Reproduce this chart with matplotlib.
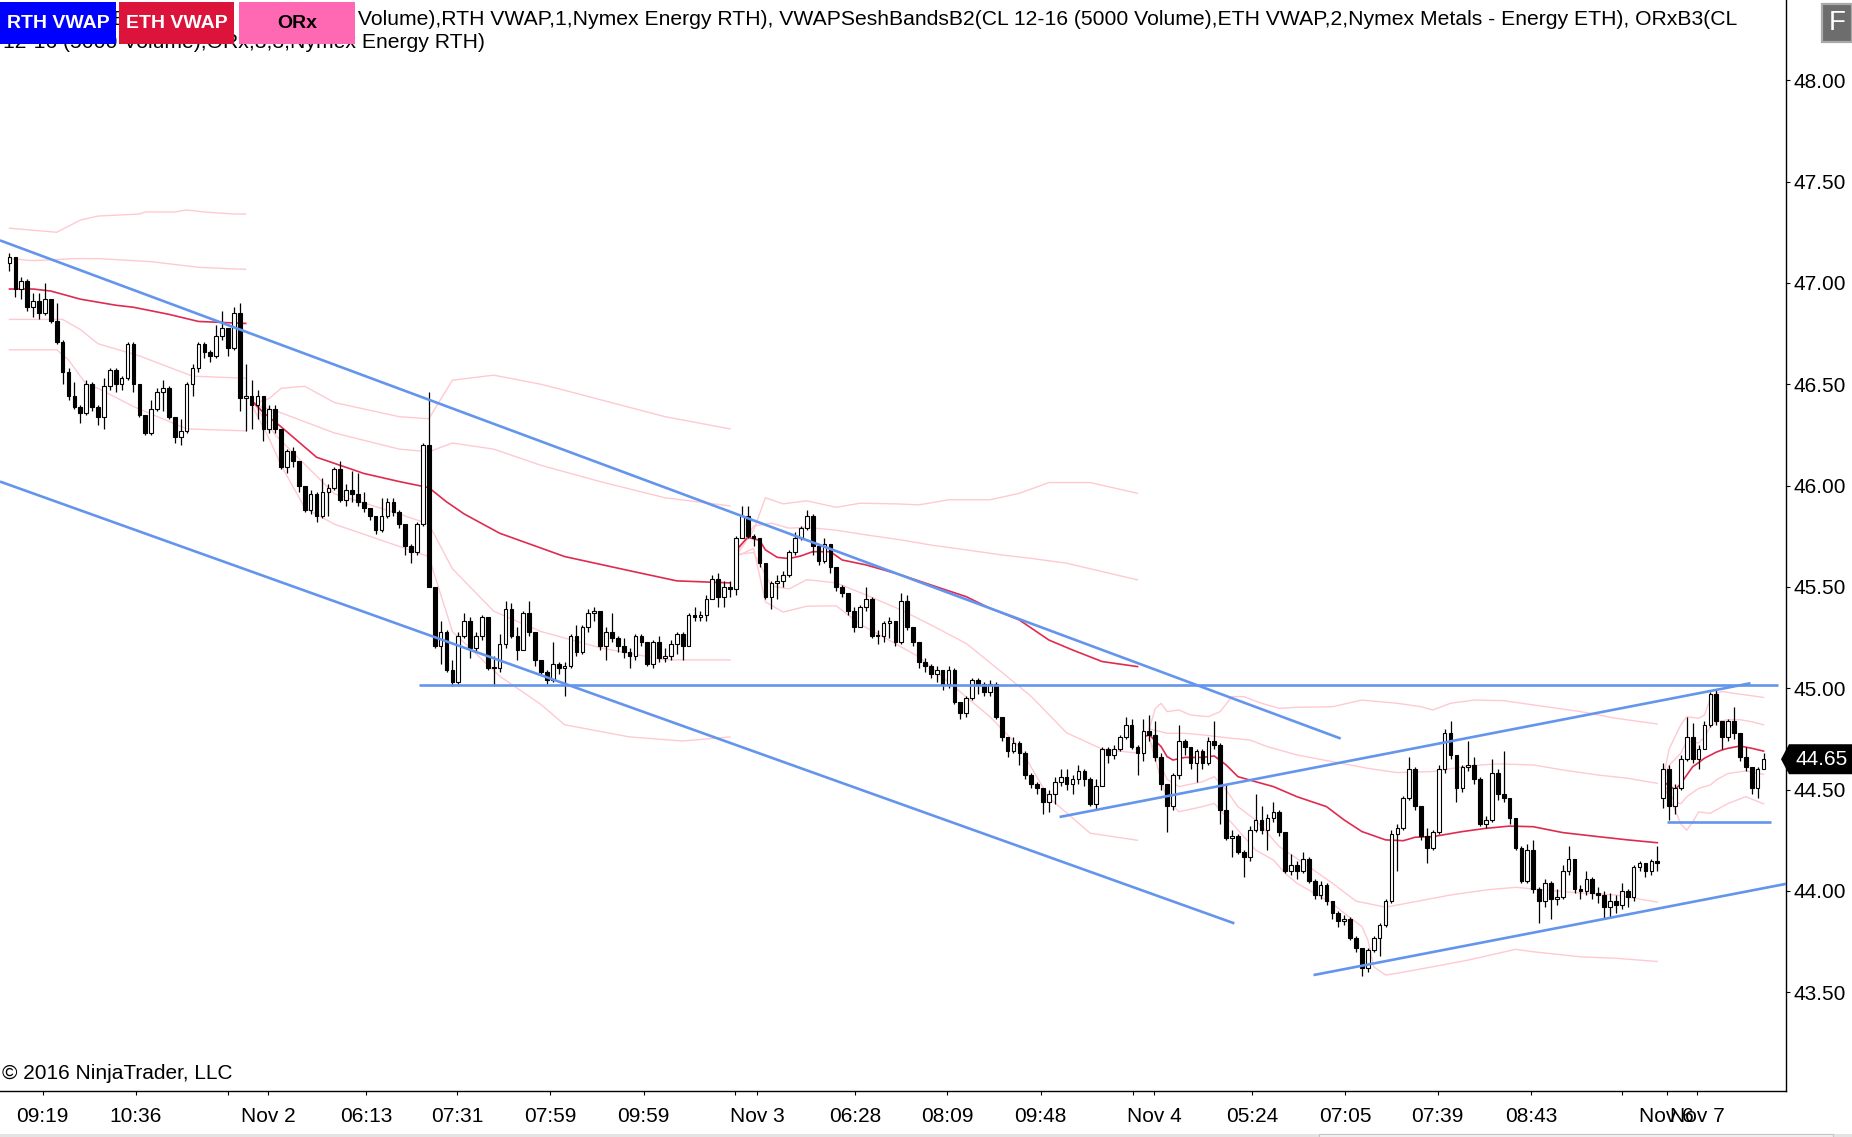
import numpy as np
import matplotlib
matplotlib.use("Agg")
import matplotlib.pyplot as plt
from matplotlib.patches import Rectangle, Polygon

plt.rcParams['font.family'] = ['Liberation Sans', 'DejaVu Sans']

W, H = 1852, 1137

# ---------------- OHLC data (5000-volume bars), by session ----------------
sessA_open = [47.10, 47.13, 46.97, 47.01, 46.88, 46.91, 46.85, 46.92, 46.81, 46.71, 46.56, 46.44, 46.39, 46.36, 46.50, 46.39, 46.34, 46.49, 46.57, 46.50, 46.53, 46.70, 46.50, 46.35, 46.26, 46.38, 46.46, 46.48, 46.34, 46.24, 46.27, 46.50, 46.58, 46.70, 46.66, 46.64, 46.74, 46.78, 46.68, 46.85, 46.43]
sessA_high = [47.15, 47.13, 47.03, 47.02, 46.95, 46.95, 47.00, 46.92, 46.90, 46.72, 46.58, 46.51, 46.40, 46.52, 46.51, 46.40, 46.53, 46.58, 46.58, 46.54, 46.71, 46.71, 46.50, 46.35, 46.42, 46.48, 46.52, 46.49, 46.34, 46.33, 46.51, 46.60, 46.71, 46.71, 46.67, 46.79, 46.86, 46.78, 46.88, 46.90, 46.60]
sessA_low = [47.06, 46.93, 46.92, 46.86, 46.83, 46.82, 46.84, 46.80, 46.70, 46.50, 46.42, 46.38, 46.31, 46.35, 46.37, 46.30, 46.28, 46.47, 46.46, 46.47, 46.52, 46.46, 46.34, 46.25, 46.25, 46.37, 46.37, 46.33, 46.21, 46.20, 46.26, 46.44, 46.56, 46.63, 46.61, 46.63, 46.72, 46.64, 46.67, 46.37, 46.27]
sessA_close = [47.13, 46.97, 47.01, 46.88, 46.91, 46.85, 46.92, 46.81, 46.71, 46.56, 46.44, 46.39, 46.36, 46.50, 46.39, 46.34, 46.49, 46.57, 46.50, 46.53, 46.70, 46.50, 46.35, 46.26, 46.38, 46.46, 46.48, 46.34, 46.24, 46.27, 46.50, 46.58, 46.70, 46.66, 46.64, 46.74, 46.78, 46.68, 46.85, 46.43, 46.44]

sessB_open = [46.44, 46.40, 46.44, 46.28, 46.38, 46.28, 46.09, 46.17, 46.12, 46.00, 45.88, 45.96, 45.85, 45.97, 45.99, 46.08, 45.93, 45.98, 45.96, 45.92, 45.89, 45.85, 45.78, 45.85, 45.92, 45.87, 45.81, 45.70, 45.67, 45.81, 46.20, 45.50, 45.21, 45.28, 45.09, 45.03, 45.26, 45.33, 45.20, 45.26, 45.35, 45.10, 45.10, 45.22, 45.39, 45.26, 45.19, 45.37, 45.28, 45.14, 45.08, 45.04, 45.12, 45.10, 45.11, 45.26, 45.18, 45.30, 45.37, 45.38, 45.21, 45.28, 45.25, 45.21, 45.18, 45.16, 45.26, 45.23, 45.12, 45.23, 45.15, 45.16, 45.22, 45.27, 45.21, 45.36, 45.35, 45.36, 45.44, 45.54, 45.45, 45.50]
sessB_high = [46.52, 46.47, 46.44, 46.40, 46.40, 46.28, 46.18, 46.19, 46.12, 46.00, 45.98, 45.97, 46.04, 46.01, 46.09, 46.12, 46.01, 46.07, 46.06, 45.97, 45.89, 45.85, 45.94, 45.94, 45.94, 45.88, 45.81, 45.71, 45.82, 46.21, 46.46, 45.50, 45.33, 45.29, 45.14, 45.28, 45.37, 45.35, 45.28, 45.36, 45.35, 45.16, 45.27, 45.43, 45.42, 45.30, 45.38, 45.43, 45.28, 45.14, 45.09, 45.23, 45.13, 45.13, 45.27, 45.31, 45.31, 45.39, 45.40, 45.38, 45.30, 45.37, 45.26, 45.25, 45.20, 45.27, 45.27, 45.23, 45.24, 45.26, 45.20, 45.24, 45.28, 45.28, 45.37, 45.40, 45.38, 45.46, 45.56, 45.57, 45.53, 45.53]
sessB_low = [46.28, 46.33, 46.22, 46.26, 46.26, 46.08, 46.06, 46.09, 45.97, 45.87, 45.86, 45.82, 45.84, 45.85, 45.98, 45.92, 45.90, 45.92, 45.90, 45.87, 45.83, 45.76, 45.77, 45.84, 45.85, 45.79, 45.66, 45.62, 45.66, 45.80, 45.50, 45.20, 45.12, 45.08, 45.01, 45.02, 45.25, 45.15, 45.18, 45.24, 45.09, 45.01, 45.08, 45.20, 45.25, 45.14, 45.19, 45.26, 45.11, 45.07, 45.02, 45.03, 45.07, 44.96, 45.10, 45.16, 45.17, 45.28, 45.33, 45.19, 45.14, 45.23, 45.18, 45.15, 45.10, 45.14, 45.21, 45.11, 45.10, 45.13, 45.13, 45.14, 45.17, 45.14, 45.21, 45.33, 45.33, 45.33, 45.44, 45.40, 45.40, 45.45]
sessB_close = [46.40, 46.44, 46.28, 46.38, 46.28, 46.09, 46.17, 46.12, 46.00, 45.88, 45.96, 45.85, 45.97, 45.99, 46.08, 45.93, 45.98, 45.96, 45.92, 45.89, 45.85, 45.78, 45.85, 45.92, 45.87, 45.81, 45.70, 45.67, 45.81, 46.20, 45.50, 45.21, 45.28, 45.09, 45.03, 45.26, 45.33, 45.20, 45.26, 45.35, 45.10, 45.10, 45.22, 45.39, 45.26, 45.19, 45.37, 45.28, 45.14, 45.08, 45.04, 45.12, 45.10, 45.11, 45.26, 45.18, 45.30, 45.37, 45.38, 45.21, 45.28, 45.25, 45.21, 45.18, 45.16, 45.26, 45.23, 45.12, 45.23, 45.15, 45.16, 45.22, 45.27, 45.21, 45.36, 45.35, 45.36, 45.44, 45.54, 45.45, 45.50, 45.49]

sessC_open = [45.49, 45.74, 45.85, 45.75, 45.74, 45.62, 45.45, 45.52, 45.53, 45.56, 45.67, 45.74, 45.79, 45.85, 45.70, 45.63, 45.71, 45.60, 45.50, 45.47, 45.38, 45.30, 45.40, 45.44, 45.26, 45.26, 45.32, 45.33, 45.23, 45.43, 45.30, 45.23, 45.13, 45.11, 45.07, 45.09, 45.02, 45.09, 44.93, 44.88, 44.95, 45.04, 45.02, 44.98, 45.02, 44.86, 44.76, 44.69, 44.73, 44.68, 44.57, 44.53, 44.51, 44.44, 44.48, 44.54, 44.56, 44.53, 44.55, 44.59, 44.55, 44.43, 44.52, 44.70, 44.67, 44.70, 44.76, 44.82, 44.71]
sessC_high = [45.75, 45.90, 45.90, 45.76, 45.74, 45.62, 45.53, 45.56, 45.58, 45.68, 45.77, 45.80, 45.88, 45.86, 45.70, 45.74, 45.71, 45.60, 45.51, 45.47, 45.40, 45.41, 45.50, 45.45, 45.29, 45.33, 45.35, 45.33, 45.47, 45.46, 45.30, 45.23, 45.15, 45.12, 45.11, 45.09, 45.11, 45.10, 44.93, 44.96, 45.05, 45.05, 45.03, 45.04, 45.03, 44.86, 44.76, 44.76, 44.74, 44.69, 44.58, 44.54, 44.51, 44.50, 44.56, 44.60, 44.60, 44.57, 44.62, 44.60, 44.56, 44.55, 44.71, 44.71, 44.72, 44.77, 44.86, 44.85, 44.72]
sessC_low = [45.46, 45.74, 45.74, 45.70, 45.60, 45.44, 45.39, 45.44, 45.50, 45.55, 45.66, 45.73, 45.78, 45.66, 45.61, 45.62, 45.57, 45.48, 45.45, 45.36, 45.28, 45.30, 45.38, 45.25, 45.22, 45.23, 45.25, 45.21, 45.22, 45.29, 45.21, 45.10, 45.08, 45.05, 45.03, 44.99, 45.00, 44.92, 44.85, 44.86, 44.94, 44.97, 44.96, 44.96, 44.85, 44.74, 44.66, 44.68, 44.62, 44.55, 44.51, 44.48, 44.38, 44.39, 44.43, 44.52, 44.50, 44.48, 44.53, 44.52, 44.42, 44.40, 44.52, 44.63, 44.65, 44.69, 44.75, 44.70, 44.57]
sessC_close = [45.74, 45.85, 45.75, 45.74, 45.62, 45.45, 45.52, 45.53, 45.56, 45.67, 45.74, 45.79, 45.85, 45.70, 45.63, 45.71, 45.60, 45.50, 45.47, 45.38, 45.30, 45.40, 45.44, 45.26, 45.26, 45.32, 45.33, 45.23, 45.43, 45.30, 45.23, 45.13, 45.11, 45.07, 45.09, 45.02, 45.09, 44.93, 44.88, 44.95, 45.04, 45.02, 44.98, 45.02, 44.86, 44.76, 44.69, 44.73, 44.68, 44.57, 44.53, 44.51, 44.44, 44.48, 44.54, 44.56, 44.53, 44.55, 44.59, 44.55, 44.43, 44.52, 44.70, 44.67, 44.70, 44.76, 44.82, 44.71, 44.68]

sessD_open = [44.68, 44.79, 44.77, 44.66, 44.53, 44.42, 44.57, 44.74, 44.71, 44.63, 44.69, 44.63, 44.74, 44.72, 44.40, 44.26, 44.27, 44.19, 44.17, 44.30, 44.35, 44.30, 44.36, 44.39, 44.29, 44.10, 44.13, 44.10, 44.16, 44.05, 43.98, 44.03, 43.95, 43.89, 43.85, 43.86, 43.77, 43.72, 43.62, 43.71, 43.77, 43.83, 43.95, 44.28, 44.31, 44.46, 44.60, 44.42, 44.27, 44.21, 44.29, 44.60, 44.78, 44.67, 44.51, 44.61, 44.62, 44.55, 44.33, 44.35, 44.58, 44.48, 44.46, 44.36, 44.21, 44.05, 44.20, 44.01, 43.95, 44.04, 43.96, 43.97, 44.10, 44.16, 44.01, 44.00, 44.06, 43.99, 43.98, 43.92, 43.95, 43.93, 44.00, 43.97, 44.12, 44.14, 44.10, 44.15]
sessD_high = [44.85, 44.87, 44.84, 44.68, 44.53, 44.58, 44.82, 44.75, 44.71, 44.70, 44.70, 44.76, 44.84, 44.73, 44.53, 44.30, 44.28, 44.20, 44.32, 44.48, 44.42, 44.38, 44.44, 44.40, 44.29, 44.18, 44.15, 44.19, 44.17, 44.06, 44.05, 44.04, 43.95, 43.90, 43.88, 43.87, 43.78, 43.72, 43.72, 43.78, 43.84, 43.96, 44.30, 44.33, 44.47, 44.66, 44.61, 44.42, 44.31, 44.30, 44.62, 44.80, 44.84, 44.67, 44.62, 44.74, 44.66, 44.56, 44.37, 44.65, 44.60, 44.69, 44.46, 44.36, 44.22, 44.23, 44.25, 44.02, 44.06, 44.05, 44.01, 44.13, 44.22, 44.16, 44.03, 44.10, 44.07, 44.02, 44.00, 43.99, 43.98, 44.04, 44.01, 44.13, 44.15, 44.14, 44.16, 44.22]
sessD_low = [44.64, 44.74, 44.64, 44.50, 44.29, 44.40, 44.55, 44.67, 44.60, 44.54, 44.60, 44.62, 44.70, 44.33, 44.25, 44.17, 44.18, 44.07, 44.15, 44.29, 44.28, 44.20, 44.34, 44.27, 44.09, 44.08, 44.06, 44.09, 44.04, 43.96, 43.96, 43.93, 43.86, 43.82, 43.83, 43.76, 43.70, 43.58, 43.60, 43.70, 43.68, 43.82, 43.94, 44.10, 44.30, 44.45, 44.40, 44.25, 44.14, 44.20, 44.28, 44.58, 44.65, 44.44, 44.49, 44.59, 44.53, 44.32, 44.31, 44.34, 44.45, 44.44, 44.33, 44.20, 44.04, 44.04, 43.99, 43.84, 43.92, 43.86, 43.93, 43.96, 44.08, 43.99, 43.96, 43.98, 43.96, 43.94, 43.86, 43.87, 43.89, 43.91, 43.92, 43.95, 44.10, 44.07, 44.08, 44.10]
sessD_close = [44.79, 44.77, 44.66, 44.53, 44.42, 44.57, 44.74, 44.71, 44.63, 44.69, 44.63, 44.74, 44.72, 44.40, 44.26, 44.27, 44.19, 44.17, 44.30, 44.35, 44.30, 44.36, 44.39, 44.29, 44.10, 44.13, 44.10, 44.16, 44.05, 43.98, 44.03, 43.95, 43.89, 43.85, 43.86, 43.77, 43.72, 43.62, 43.71, 43.77, 43.83, 43.95, 44.28, 44.31, 44.46, 44.60, 44.42, 44.27, 44.21, 44.29, 44.60, 44.78, 44.67, 44.51, 44.61, 44.62, 44.55, 44.33, 44.35, 44.58, 44.48, 44.46, 44.36, 44.21, 44.05, 44.20, 44.01, 43.95, 44.04, 43.96, 43.97, 44.10, 44.16, 44.01, 44.00, 44.06, 43.99, 43.98, 43.92, 43.95, 43.93, 44.00, 43.97, 44.12, 44.14, 44.10, 44.15, 44.14]

sessE_open = [44.46, 44.60, 44.42, 44.51, 44.65, 44.76, 44.65, 44.70, 44.82, 44.97, 44.84, 44.76, 44.84, 44.78, 44.66, 44.61, 44.51, 44.60]
sessE_high = [44.63, 44.62, 44.53, 44.67, 44.86, 44.83, 44.72, 44.84, 44.98, 44.99, 44.84, 44.85, 44.91, 44.78, 44.71, 44.61, 44.61, 44.68]
sessE_low = [44.41, 44.35, 44.38, 44.50, 44.64, 44.63, 44.60, 44.70, 44.81, 44.82, 44.70, 44.74, 44.75, 44.64, 44.59, 44.48, 44.46, 44.60]
sessE_close = [44.60, 44.42, 44.51, 44.65, 44.76, 44.65, 44.70, 44.82, 44.97, 44.84, 44.76, 44.84, 44.78, 44.66, 44.61, 44.51, 44.60, 44.65]

# ---------------- ETH VWAP and bands (bar index, price) ----------------
ethA_vwap = [(0, 46.97), (4, 46.97), (7, 46.96), (12, 46.92), (18, 46.89), (21, 46.88), (27, 46.845), (32, 46.81), (40, 46.80)]
ethA_up2 = [(0, 47.27), (8, 47.25), (12, 47.31), (15, 47.33), (22, 47.34), (23, 47.35), (28, 47.35), (30, 47.36), (33, 47.35), (38, 47.34), (40, 47.34)]
ethA_up1 = [(0, 47.12), (4, 47.11), (11, 47.12), (15, 47.12), (24, 47.105), (32, 47.077), (40, 47.067)]
ethA_dn1 = [(0, 46.82), (9, 46.82), (12, 46.77), (15, 46.70), (22, 46.64), (31, 46.54), (40, 46.53)]
ethA_dn2 = [(0, 46.67), (8, 46.67), (10, 46.62), (13, 46.50), (15, 46.48), (21, 46.39), (30, 46.28), (40, 46.27)]

ethB_vwap = [(41, 46.42), (43, 46.36), (46, 46.29), (52, 46.14), (60, 46.06), (66, 46.02), (71, 45.99), (74, 45.92), (77, 45.86), (83, 45.765), (94, 45.65), (105, 45.58), (113, 45.53), (122, 45.52)]
ethB_up2 = [(41, 46.40), (44, 46.43), (46, 46.48), (50, 46.49), (55, 46.41), (66, 46.34), (71, 46.33), (75, 46.52), (82, 46.545), (90, 46.50), (96, 46.455), (111, 46.34), (122, 46.28)]
ethB_up1 = [(41, 46.40), (45, 46.37), (55, 46.26), (66, 46.18), (71, 46.167), (75, 46.21), (82, 46.18), (90, 46.10), (100, 46.02), (111, 45.94), (122, 45.90)]
ethB_dn1 = [(41, 46.42), (45, 46.25), (55, 45.96), (66, 45.86), (71, 45.81), (75, 45.59), (82, 45.38), (90, 45.28), (100, 45.20), (111, 45.14), (122, 45.14)]
ethB_dn2 = [(41, 46.40), (44, 46.23), (46, 46.10), (50, 45.89), (55, 45.81), (66, 45.70), (71, 45.65), (75, 45.28), (83, 45.06), (90, 44.92), (94, 44.82), (105, 44.76), (114, 44.74), (122, 44.76)]

ethC_vwap = [(123, 45.68), (125, 45.745), (127, 45.73), (128, 45.683), (130, 45.646), (132, 45.64), (134, 45.653), (136, 45.674), (139, 45.674), (141, 45.633), (145, 45.609), (151, 45.559), (156, 45.51), (162, 45.452), (166, 45.395), (171, 45.337), (176, 45.238), (180, 45.189), (185, 45.132), (191, 45.107)]
ethC_up2 = [(123, 45.65), (126, 45.78), (128, 45.94), (131, 45.91), (135, 45.925), (140, 45.893), (144, 45.913), (150, 45.91), (154, 45.905), (159, 45.93), (166, 45.93), (171, 45.962), (176, 46.015), (183, 46.015), (191, 45.962)]
ethC_up1 = [(123, 45.66), (126, 45.80), (129, 45.815), (132, 45.79), (135, 45.794), (140, 45.78), (145, 45.757), (151, 45.732), (156, 45.707), (162, 45.683), (168, 45.658), (173, 45.641), (179, 45.617), (185, 45.576), (191, 45.535)]
ethC_dn1 = [(123, 45.66), (126, 45.67), (129, 45.505), (132, 45.49), (135, 45.536), (140, 45.52), (145, 45.461), (151, 45.386), (156, 45.313), (162, 45.221), (168, 45.08), (173, 44.96), (179, 44.78), (185, 44.70), (191, 44.68)]
ethC_dn2 = [(123, 45.65), (126, 45.69), (128, 45.426), (131, 45.376), (135, 45.405), (140, 45.407), (144, 45.317), (150, 45.22), (154, 45.155), (159, 45.03), (166, 44.86), (171, 44.71), (176, 44.46), (183, 44.285), (191, 44.25)]

ethD_vwap = [(192, 44.76), (193, 44.77), (195, 44.712), (196, 44.663), (197, 44.646), (199, 44.659), (202, 44.659), (204, 44.666), (206, 44.622), (208, 44.564), (211, 44.539), (214, 44.515), (218, 44.465), (223, 44.416), (226, 44.35), (229, 44.293), (233, 44.252), (236, 44.248), (238, 44.265), (241, 44.268), (246, 44.293), (250, 44.309), (254, 44.32), (258, 44.317), (263, 44.288), (269, 44.268), (274, 44.252), (279, 44.238)]
ethD_up2 = [(193, 44.80), (194, 44.90), (195, 44.926), (196, 44.885), (198, 44.893), (200, 44.868), (203, 44.86), (205, 44.885), (207, 44.959), (209, 44.959), (212, 44.926), (215, 44.901), (218, 44.906), (224, 44.909), (229, 44.942), (235, 44.926), (239, 44.909), (241, 44.893), (244, 44.926), (248, 44.942), (253, 44.939), (258, 44.918), (266, 44.885), (272, 44.852), (279, 44.824)]
ethD_up1 = [(193, 44.80), (196, 44.778), (199, 44.778), (202, 44.77), (207, 44.753), (210, 44.745), (213, 44.712), (218, 44.671), (224, 44.638), (230, 44.605), (235, 44.584), (241, 44.589), (247, 44.617), (252, 44.627), (258, 44.622), (263, 44.597), (269, 44.572), (274, 44.556), (279, 44.531)]
ethD_dn1 = [(193, 44.75), (196, 44.55), (198, 44.515), (202, 44.539), (204, 44.564), (206, 44.498), (208, 44.416), (211, 44.35), (215, 44.219), (220, 44.12), (224, 44.038), (228, 43.95), (233, 43.92), (238, 43.947), (244, 43.98), (250, 44.005), (255, 44.018), (261, 44.002), (266, 43.99), (272, 43.98), (279, 43.945)]
ethD_dn2 = [(193, 44.75), (196, 44.45), (198, 44.391), (202, 44.416), (204, 44.432), (206, 44.367), (209, 44.268), (211, 44.202), (214, 44.153), (216, 44.087), (218, 44.038), (221, 43.988), (224, 43.939), (226, 43.89), (229, 43.824), (230, 43.758), (231, 43.626), (233, 43.585), (235, 43.594), (241, 43.626), (247, 43.659), (252, 43.692), (255, 43.712), (258, 43.70), (266, 43.675), (272, 43.668), (279, 43.652)]

ethE_vwap = [(280, 44.54), (281, 44.52), (282, 44.50), (283, 44.53), (284, 44.572), (285, 44.613), (286, 44.633), (287, 44.655), (289, 44.685), (290, 44.696), (291, 44.704), (293, 44.715), (295, 44.704), (297, 44.69)]
ethE_up2 = [(280, 44.55), (281, 44.70), (283, 44.82), (284, 44.86), (286, 44.852), (287, 44.868), (288, 44.95), (289, 44.975), (290, 44.984), (292, 44.975), (294, 44.967), (297, 44.955)]
ethE_up1 = [(280, 44.54), (281, 44.62), (283, 44.68), (284, 44.74), (286, 44.73), (287, 44.76), (288, 44.81), (289, 44.835), (291, 44.845), (293, 44.845), (295, 44.835), (297, 44.82)]
ethE_dn1 = [(280, 44.53), (282, 44.44), (283, 44.43), (284, 44.465), (286, 44.506), (288, 44.523), (289, 44.548), (291, 44.58), (294, 44.592), (297, 44.575)]
ethE_dn2 = [(280, 44.52), (282, 44.40), (283, 44.33), (284, 44.30), (285, 44.34), (286, 44.39), (288, 44.383), (289, 44.40), (291, 44.432), (294, 44.465), (297, 44.43)]

# ---------------- drawing objects (bar index, price) ----------------
trend_upper = [(-1.6, 47.21), (225.4, 44.752)]
trend_lower = [(-1.6, 46.02), (207.4, 43.84)]
level_45 = [(69.4, 45.015), (299.4, 45.015)]
trend_rise1 = [(177.8, 44.365), (294.8, 45.025)]
trend_rise2 = [(220.8, 43.585), (300.8, 44.035)]
level_e = [(280.6, 44.342), (298.3, 44.342)]

# ---------------- axis labels ----------------
x_tick_pos = [5.6, 21.4, 37.0, 43.8, 60.4, 75.8, 91.6, 107.4, 122.8, 126.6, 143.2, 158.8,
              174.6, 190.2, 193.8, 210.4, 226.2, 241.8, 257.6, 273.0, 280.6, 285.8]
x_tick_labels = ["09:19", "10:36", "", "Nov 2", "06:13", "07:31", "07:59", "09:59", "", "Nov 3",
                 "06:28", "08:09", "09:48", "", "Nov 4", "05:24", "07:05", "07:39", "08:43", "",
                 "Nov 6", "Nov 7"]
y_ticks = [43.5, 44.0, 44.5, 45.0, 45.5, 46.0, 46.5, 47.0, 47.5, 48.0]

header_line1 = ("VWAPSeshBandsB2(CL 12-16 (5000 Volume),RTH VWAP,1,Nymex Energy RTH), "
                "VWAPSeshBandsB2(CL 12-16 (5000 Volume),ETH VWAP,2,Nymex Metals - Energy ETH), ORxB3(CL")
header_line2 = "12-16 (5000 Volume),ORx,3,3,Nymex Energy RTH)"
legend_boxes = [("RTH VWAP", 0, 116, "#0000FF", "white"),
                ("ETH VWAP", 119, 234, "#DC143C", "white"),
                ("ORx", 239, 355, "#FF69B4", "black")]

# ---------------- build arrays ----------------
opens = np.array(sessA_open + sessB_open + sessC_open + sessD_open + sessE_open)
highs = np.array(sessA_high + sessB_high + sessC_high + sessD_high + sessE_high)
lows = np.array(sessA_low + sessB_low + sessC_low + sessD_low + sessE_low)
closes = np.array(sessA_close + sessB_close + sessC_close + sessD_close + sessE_close)
x = np.arange(len(closes))

fig = plt.figure(figsize=(W / 100, H / 100), dpi=100)
fig.patch.set_facecolor("white")
ax = fig.add_axes([0, 46 / H, 1786 / W, 1 - 46 / H])
ax.set_facecolor("white")
ax.set_xlim(-1.6, 300.8)
ax.set_ylim(43.013, 48.396)

band_color = "#FFC9D1"
vwap_color = "#DC143C"
for sess in [(ethA_vwap, ethA_up2, ethA_up1, ethA_dn1, ethA_dn2),
             (ethB_vwap, ethB_up2, ethB_up1, ethB_dn1, ethB_dn2),
             (ethC_vwap, ethC_up2, ethC_up1, ethC_dn1, ethC_dn2),
             (ethD_vwap, ethD_up2, ethD_up1, ethD_dn1, ethD_dn2),
             (ethE_vwap, ethE_up2, ethE_up1, ethE_dn1, ethE_dn2)]:
    for band in sess[1:]:
        bx, by = zip(*band)
        ax.plot(bx, by, color=band_color, lw=1.0, zorder=2, solid_joinstyle="round")
    vx, vy = zip(*sess[0])
    ax.plot(vx, vy, color=vwap_color, lw=1.2, alpha=0.9, zorder=2.5, solid_joinstyle="round")

# candles
ax.vlines(x, lows, highs, color="black", linewidth=0.9, zorder=3)
up = closes > opens
bottoms = np.minimum(opens, closes)
heights = np.maximum(np.abs(closes - opens), 0.004)
ax.bar(x[up], heights[up], bottom=bottoms[up], width=0.62, facecolor="white",
       edgecolor="black", linewidth=0.8, zorder=4)
ax.bar(x[~up], heights[~up], bottom=bottoms[~up], width=0.62, facecolor="black",
       edgecolor="black", linewidth=0.8, zorder=4)

# drawing objects
for line in [trend_upper, trend_lower, level_45, trend_rise1, trend_rise2, level_e]:
    lx, ly = zip(*line)
    ax.plot(lx, ly, color="#6495ED", lw=1.9, zorder=6, solid_capstyle="butt")

# axes styling
for s in ["top", "left"]:
    ax.spines[s].set_visible(False)
ax.spines["right"].set_linewidth(1.0)
ax.spines["bottom"].set_linewidth(1.0)
ax.yaxis.tick_right()
ax.set_yticks(y_ticks)
ax.set_yticklabels([f"{v:.2f}" for v in y_ticks])
ax.set_xticks(x_tick_pos)
ax.set_xticklabels(x_tick_labels)
ax.tick_params(axis="y", direction="out", length=3, width=0.8, pad=2.5, labelsize=15, colors="black")
ax.tick_params(axis="x", direction="out", length=3.2, width=0.8, pad=8.5, labelsize=15, colors="black")

# header text and legend boxes (the boxes sit on top of the start of the header, as in the app)
fig.text(3 / W, 1 - 25 / H, header_line1, fontsize=15.2, va="baseline", ha="left", color="black", zorder=5)
fig.text(3 / W, 1 - 48 / H, header_line2, fontsize=15.2, va="baseline", ha="left", color="black", zorder=5)
for label, x0, x1, fc, tc in legend_boxes:
    fig.add_artist(Rectangle((x0 / W, 1 - 44 / H), (x1 - x0) / W, 42 / H, transform=fig.transFigure,
                             facecolor=fc, edgecolor="none", zorder=10))
    fig.text((x0 + x1) / 2 / W, 1 - 24 / H, label, ha="center", va="center", fontsize=14,
             fontweight="bold", color=tc, zorder=11)

# "F" button
fig.add_artist(Rectangle((1822 / W, 1 - 42 / H), 30 / W, 38 / H, transform=fig.transFigure,
                         facecolor="#6D6D6D", edgecolor="#AAAAAA", linewidth=1.6, zorder=10))
fig.text(1837 / W, 1 - 23 / H, "F", ha="center", va="center", fontsize=20, color="white", zorder=11)

# copyright
fig.text(2 / W, 1 - 1079 / H, "\u00a9 2016 NinjaTrader, LLC", fontsize=15, va="baseline", ha="left",
         color="black", zorder=5)

# last price marker
last_price = closes[-1]
fig.canvas.draw()
py = fig.transFigure.inverted().transform(ax.transData.transform((0, last_price)))[1] * H
tag = Polygon([(1781 / W, py / H), (1789 / W, (py + 15) / H), (W / W, (py + 15) / H),
               (W / W, (py - 15) / H), (1789 / W, (py - 15) / H)], closed=True,
              transform=fig.transFigure, facecolor="black", edgecolor="none", zorder=10)
fig.add_artist(tag)
fig.text(1796 / W, py / H, f"{last_price:.2f}", ha="left", va="center", fontsize=15, color="white", zorder=11)

# scrollbar strip at bottom
fig.add_artist(Rectangle((0, 0), 1, 3 / H, transform=fig.transFigure, facecolor="#E4E4E4",
                         edgecolor="none", zorder=10))
fig.add_artist(Rectangle((1319 / W, 0), (1833 - 1319) / W, 3 / H, transform=fig.transFigure,
                         facecolor="#F2F2F2", edgecolor="#C4C4C4", linewidth=0.8, zorder=11))

fig.savefig("out.png", dpi=100, facecolor="white")
